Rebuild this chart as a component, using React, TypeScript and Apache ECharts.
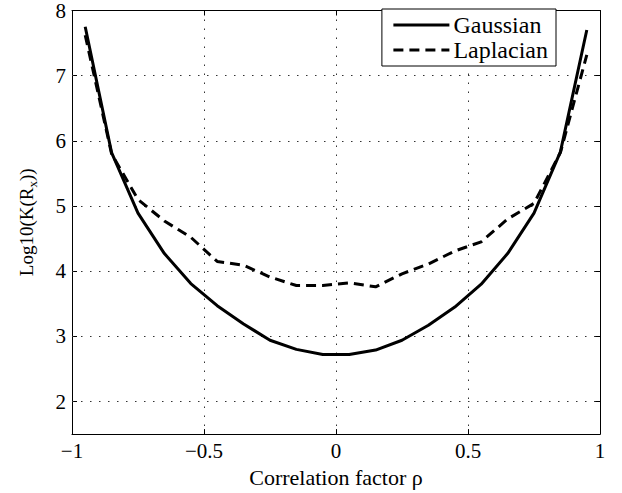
import React, { useEffect, useRef } from "react";
import * as echarts from "echarts";

const rho = [-0.95, -0.85, -0.75, -0.65, -0.55, -0.45, -0.35, -0.25, -0.15, -0.05, 0.05, 0.15, 0.25, 0.35, 0.45, 0.55, 0.65, 0.75, 0.85, 0.95];
const gaussian = [7.75, 5.82, 4.89, 4.27, 3.81, 3.47, 3.19, 2.94, 2.8, 2.72, 2.72, 2.79, 2.94, 3.17, 3.45, 3.8, 4.27, 4.89, 5.83, 7.7];
const laplacian = [7.62, 5.8, 5.1, 4.77, 4.52, 4.15, 4.09, 3.91, 3.78, 3.78, 3.82, 3.76, 3.96, 4.11, 4.31, 4.45, 4.8, 5.04, 5.82, 7.32];
const yTicks = [2, 3, 4, 5, 6, 7, 8];
const yGrid = [2, 3, 4, 5, 6, 7];
const seriesNames = ["Gaussian", "Laplacian"];

const FONT = "Liberation Serif";

export default function App() {
  const ref = useRef<HTMLDivElement>(null);
  useEffect(() => {
    document.body.style.margin = "0";
    const chart = echarts.init(ref.current!, null, { renderer: "svg" });
    const fmtX = (v: number) => (v < 0 ? "\u2212" + String(Math.abs(v)) : String(v));
    const dotted = { type: [1.5, 7.5] as any, color: "#333", width: 1 };
    const xBase = {
      type: "value",
      min: -1,
      max: 1,
      interval: 0.5,
      axisLine: { show: true, onZero: false, lineStyle: { color: "#000", width: 1 } },
      axisTick: { show: true, inside: true, length: 5, lineStyle: { color: "#000" } },
    };
    const yBase = {
      type: "value",
      min: 1.5,
      max: 8,
      axisLine: { show: true, onZero: false, lineStyle: { color: "#000", width: 1 } },
      axisTick: { show: true, inside: true, length: 5, customValues: yTicks, lineStyle: { color: "#000" } },
      splitLine: { show: false },
    };
    chart.setOption({
      animation: false,
      backgroundColor: "#fff",
      grid: { left: 72, right: 22, top: 8, bottom: 54, containLabel: false },
      legend: {
        orient: "vertical",
        right: 66,
        top: 9,
        data: seriesNames,
        itemWidth: 56,
        itemHeight: 14,
        itemGap: 1,
        padding: [4, 8, 4, 10],
        borderColor: "#000",
        borderWidth: 1,
        backgroundColor: "#fff",
        itemStyle: { opacity: 0 },
        lineStyle: { width: 3 },
        textStyle: { fontFamily: FONT, fontSize: 24, color: "#000", padding: [0, 0, 0, -1] },
      },
      xAxis: [
        {
          ...xBase,
          position: "bottom",
          name: "Correlation factor \u03c1",
          nameLocation: "middle",
          nameGap: 29,
          nameTextStyle: { fontFamily: FONT, fontSize: 22, color: "#000" },
          axisLabel: { fontFamily: FONT, fontSize: 21, color: "#000", margin: 6, formatter: fmtX },
          splitLine: { show: true, lineStyle: dotted },
        },
        {
          ...xBase,
          position: "top",
          axisLabel: { show: false },
          splitLine: { show: false },
        },
      ],
      yAxis: [
        {
          ...yBase,
          position: "left",
          name: "{a|Log10(K(R}{s|x}{a|))}",
          nameLocation: "middle",
          nameRotate: 90,
          nameGap: 33,
          nameTextStyle: {
            rich: {
              a: { fontFamily: FONT, fontSize: 19, color: "#000", lineHeight: 26 },
              s: { fontFamily: FONT, fontSize: 13, color: "#000", lineHeight: 13, verticalAlign: "bottom" },
            },
          },
          axisLabel: { fontFamily: FONT, fontSize: 21, color: "#000", margin: 6, customValues: yTicks },
        },
        {
          ...yBase,
          position: "right",
          axisLabel: { show: false },
        },
      ],
      series: [
        {
          name: seriesNames[0],
          type: "line",
          symbol: "none",
          data: rho.map((x, i) => [x, gaussian[i]]),
          lineStyle: { color: "#000", width: 3 },
          itemStyle: { color: "#000" },
          markLine: {
            silent: true,
            symbol: "none",
            label: { show: false },
            lineStyle: dotted,
            data: yGrid.map((v) => ({ yAxis: v })),
            z: 1,
          },
          z: 3,
        },
        {
          name: seriesNames[1],
          type: "line",
          symbol: "none",
          data: rho.map((x, i) => [x, laplacian[i]]),
          lineStyle: { color: "#000", width: 3, type: [10, 6] },
          itemStyle: { color: "#000" },
          z: 3,
        },
      ],
    });
    return () => chart.dispose();
  }, []);
  return <div ref={ref} style={{ position: "absolute", left: 0, top: 0, width: 622, height: 493 }} />;
}
